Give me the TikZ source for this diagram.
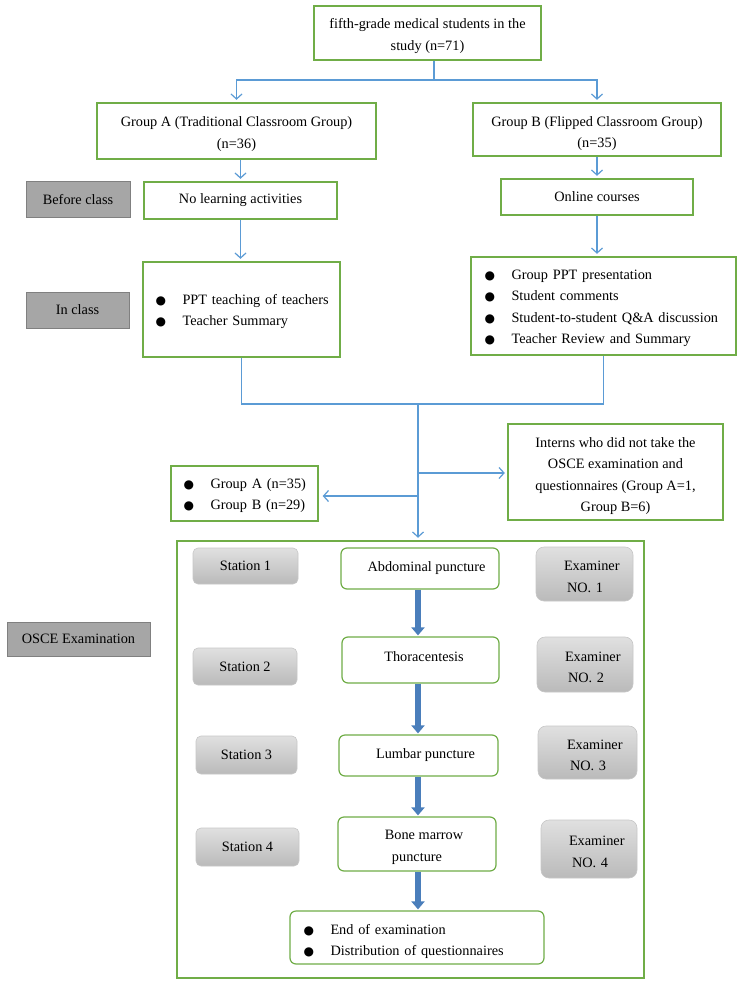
\documentclass[tikz,border=0pt]{standalone}
\usepackage{fontspec}
\setmainfont{Liberation Serif}
\newfontfamily\bulfont{DejaVu Sans}
\usetikzlibrary{arrows.meta,calc}
\definecolor{grn}{RGB}{112,173,71}
\definecolor{lblue}{RGB}{91,155,213}
\definecolor{dblue}{RGB}{74,126,187}
\definecolor{labgray}{RGB}{166,166,166}
\definecolor{labedge}{RGB}{128,128,128}
\definecolor{sttop}{RGB}{224,224,224}
\definecolor{stbot}{RGB}{186,186,186}
\newcommand\bul{\makebox[27pt][l]{\bulfont\fontsize{12}{12}\selectfont ●}}
\newcommand\ccol[2][0pt]{\raisebox{#1}[\height][\depth]{\begin{tabular}{@{}c@{}}#2\end{tabular}}}
\newcommand\lcol[2][0pt]{\raisebox{#1}[\height][\depth]{\begin{tabular}{@{}l@{}}#2\end{tabular}}}
\begin{document}
\begin{tikzpicture}[x=1pt,y=-1pt,
  font=\fontsize{14.3}{21.5}\selectfont,
  gbox/.style={draw=grn, line width=1.4pt, inner sep=0pt, align=center, fill=white},
  rbox/.style={gbox, rounded corners=6pt, line width=1.2pt},
  lab/.style={draw=labedge, fill=labgray, line width=1pt, inner sep=0pt},
  stn/.style={draw=black!22, top color=sttop, bottom color=stbot, rounded corners=5pt, inner sep=0pt, line width=0.6pt, align=center},
  exm/.style={stn, rounded corners=8pt, align=left, inner sep=0pt},
  ln/.style={draw=lblue, line width=1.3pt},
  arr/.style={ln, -{Straight Barb[length=5pt,width=11pt,line width=1.2pt]}, shorten >=2.5pt},
  fat/.style={draw=dblue, line width=6pt, -{Triangle[length=8pt,width=13pt]}, shorten >=1pt}
]
\useasboundingbox[fill=white] (0,0) rectangle (744,987);

% top part
\node[gbox, minimum width=227pt, minimum height=54pt] (top) at (427.5,33) {\ccol[-2pt]{fifth-grade medical students in the\\study (n=71)}};
\node[gbox, minimum width=279pt, minimum height=56pt] (gA) at (236.5,131) {\ccol[-2pt]{Group A (Traditional Classroom Group)\\(n=36)}};
\node[gbox, minimum width=248pt, minimum height=53pt] (gB) at (597,129.5) {\ccol[-3pt]{Group B (Flipped Classroom Group)\\(n=35)}};

\node[lab, minimum width=104pt, minimum height=36pt] (before) at (78,199.5) {Before class};
\node[gbox, minimum width=193pt, minimum height=37pt] (nl) at (240.5,200.5) {No learning activities};
\node[gbox, minimum width=192pt, minimum height=36pt] (online) at (597,197) {Online courses};

\node[lab, minimum width=103pt, minimum height=36pt] (inclass) at (77.5,310) {In class};
\node[gbox, minimum width=197pt, minimum height=95pt, text width=172pt, inner xsep=12.5pt, align=left] (ppt) at (241.5,309.5)
  {\lcol[-1pt]{\bul PPT teaching of teachers\\\bul Teacher Summary}};
\node[gbox, minimum width=265pt, minimum height=98pt, text width=238pt, inner xsep=13.5pt, align=left] (ingB) at (603.5,306)
  {\lcol[-1pt]{\bul Group PPT presentation\\\bul Student comments\\\bul Student-to-student Q\&A discussion\\\bul Teacher Review and Summary}};

\node[gbox, minimum width=147pt, minimum height=55pt, text width=122pt, inner xsep=12.5pt, align=left] (gab) at (244.5,493.5)
  {\lcol[-1pt]{\bul Group A (n=35)\\\bul Group B (n=29)}};
\node[gbox, minimum width=215pt, minimum height=96pt] (interns) at (615.5,472)
  {\ccol[-3pt]{Interns who did not take the\\OSCE examination and\\questionnaires (Group A=1,\\Group B=6)}};

% OSCE part
\node[draw=grn, line width=1.5pt, minimum width=467pt, minimum height=437pt, inner sep=0pt] (osce) at (410.5,759.5) {};
\node[lab, minimum width=143pt, minimum height=34pt] (oscelab) at (78.5,639) {OSCE Examination};

\node[stn, minimum width=105pt, minimum height=36pt] (st1) at (245.5,566) {Station 1};
\node[stn, minimum width=104pt, minimum height=37pt] (st2) at (245,666.5) {Station 2};
\node[stn, minimum width=101pt, minimum height=38pt] (st3) at (246.5,755) {Station 3};
\node[stn, minimum width=103pt, minimum height=38pt] (st4) at (247.5,847) {Station 4};

\node[rbox, minimum width=158pt, minimum height=41pt] (abd) at (420,568.5) {\hspace*{13pt}Abdominal puncture};
\node[rbox, minimum width=157pt, minimum height=46pt] (thor) at (420.5,660) {\hspace*{7pt}\raisebox{3pt}[\height][\depth]{Thoracentesis}};
\node[rbox, minimum width=159pt, minimum height=41pt] (lum) at (418.5,755.5) {\hspace*{14pt}Lumbar puncture};
\node[rbox, minimum width=158pt, minimum height=54pt] (bm) at (417,844) {\ccol[-2pt]{\hspace*{14pt}Bone marrow\\puncture}};
\node[rbox, minimum width=254pt, minimum height=53pt, text width=227pt, inner xsep=13.5pt, align=left] (endb) at (417,937.5)
  {\lcol[-3pt]{\bul End of examination\\\bul Distribution of questionnaires}};

\node[exm, minimum width=97pt, minimum height=54pt, text width=97pt] (ex1) at (584.5,574) {\lcol[-3pt]{\hspace*{28pt}Examiner\\\hspace*{31pt}NO. 1}};
\node[exm, minimum width=96pt, minimum height=55pt, text width=96pt] (ex2) at (585,664.5) {\lcol[-3pt]{\hspace*{28pt}Examiner\\\hspace*{31pt}NO. 2}};
\node[exm, minimum width=99pt, minimum height=53pt, text width=99pt] (ex3) at (587.5,752.5) {\lcol[-3pt]{\hspace*{29pt}Examiner\\\hspace*{32pt}NO. 3}};
\node[exm, minimum width=96pt, minimum height=58pt, text width=96pt] (ex4) at (589,849) {\lcol[-3pt]{\hspace*{28pt}Examiner\\\hspace*{31pt}NO. 4}};

% connectors
\coordinate (s1) at (434,80);
\draw[ln] (s1 |- top.south) -- (s1);
\draw[arr] (s1) -| (gA.north);
\draw[arr] (s1) -| (gB.north);
\draw[arr] (nl.north |- gA.south) -- (nl.north);
\draw[arr] (gB.south) -- (online.north);
\draw[arr] (nl.south) -- (ppt.north -| nl.south);
\draw[arr] (online.south) -- (ingB.north -| online.south);

\coordinate (m) at (418,404);
\draw[ln] (ppt.south) |- (m) -| (ingB.south);
\draw[arr] (m) -- (m |- osce.north);
\coordinate (br) at (418,473);
\coordinate (bl) at (418,496);
\draw[arr] (br) -- (br -| interns.west);
\draw[arr, shorten >=4pt] (bl) -- (bl -| gab.east);

\draw[fat] (m |- abd.south) -- (m |- thor.north);
\draw[fat] (m |- thor.south) -- (m |- lum.north);
\draw[fat] (m |- lum.south) -- (m |- bm.north);
\draw[fat] (m |- bm.south) -- (m |- endb.north);
\end{tikzpicture}
\end{document}
